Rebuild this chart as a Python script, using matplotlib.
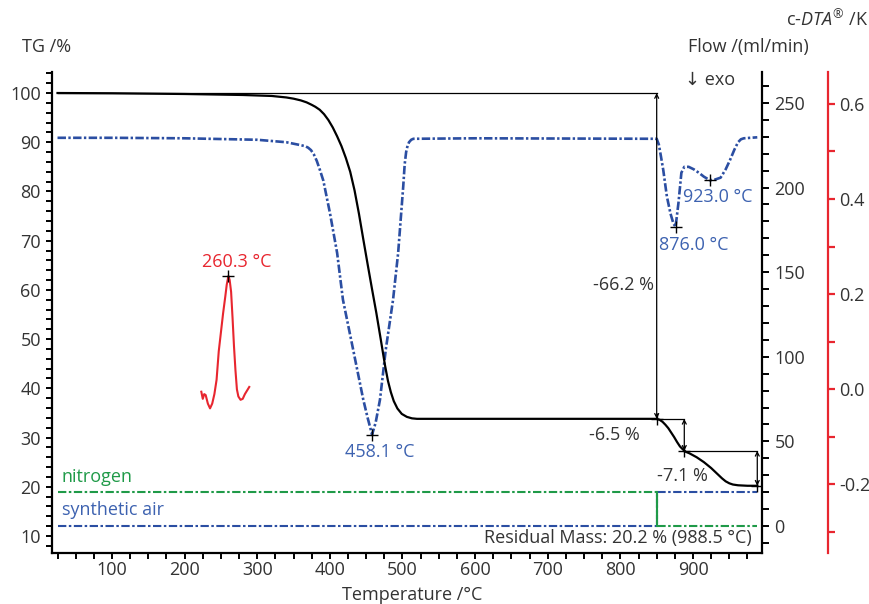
import matplotlib
matplotlib.use("Agg")
import matplotlib.pyplot as plt
from matplotlib.ticker import MultipleLocator, FuncFormatter

plt.rcParams['font.family'] = ['Open Sans', 'DejaVu Sans']
plt.rcParams['mathtext.fontset'] = 'custom'
plt.rcParams['mathtext.rm'] = 'Open Sans'
plt.rcParams['mathtext.it'] = 'Open Sans:italic'

TXT = '#333333'
BLUE = '#2b4ea2'
BLUE_T = '#3d62b0'
RED = '#e8262f'
GREEN = '#1f9a48'
FS = 13

# TG curve (%)
tg_T = [25, 100, 200, 280, 320, 340, 350, 360, 368, 375, 380, 386, 392, 398, 404, 410, 416,
        422, 428, 434, 440, 446, 452, 458, 464, 470, 476, 480, 484, 488, 493, 499, 506, 513,
        520, 600, 850, 854, 858, 862, 866, 870, 874, 878, 882, 886, 890, 895, 900, 905, 910,
        915, 920, 925, 930, 935, 940, 945, 950, 955, 962, 975, 988.5]
tg_v = [100, 99.95, 99.8, 99.6, 99.4, 99.1, 98.85, 98.5, 98.1, 97.6, 97.2, 96.6, 95.7, 94.5,
        93.0, 91.2, 89.2, 86.8, 84.0, 80.2, 75.5, 70.3, 65.2, 60.2, 55.3, 50.0, 44.6, 41.5,
        39.2, 37.4, 35.9, 34.8, 34.2, 33.9, 33.8, 33.8, 33.8, 33.6, 33.2, 32.6, 31.9, 31.0,
        30.1, 29.1, 28.2, 27.6, 27.1, 26.8, 26.4, 26.0, 25.5, 25.0, 24.4, 23.8, 23.1, 22.4,
        21.7, 21.1, 20.7, 20.45, 20.3, 20.2, 20.2]

# blue dash-dot curve (plotted in TG-axis units)
bl_T = [25, 100, 200, 300, 340, 360, 366, 370, 374, 378, 382, 386, 391, 400, 410, 418, 432,
        446, 452, 458.1, 463, 469, 477, 487, 494, 501, 503, 505, 507, 509, 512, 515, 600,
        850, 853, 856, 859, 864, 869, 873, 876, 880, 884, 888, 894, 901, 908, 915, 923, 930,
        938, 945, 951, 957, 962, 966, 970, 988.5]
bl_v = [90.9, 90.9, 90.8, 90.5, 90.0, 89.4, 89.2, 88.9, 88.4, 87.5, 86.2, 84.5, 82.2, 75.7,
        67.5, 58, 47.9, 37.7, 34, 30.6, 33, 37.7, 47.9, 58, 67.5, 81, 85.5, 88.0, 89.3, 90.0,
        90.5, 90.7, 90.8, 90.7, 89.5, 87, 84.4, 79, 75.5, 73.5, 72.8, 77.7, 83.8, 85, 85,
        84.5, 83.8, 83.0, 82.3, 82.4, 82.8, 84.5, 86.4, 88.5, 90, 90.6, 90.8, 91]

# red c-DTA curve (K)
rd_T = [223, 225, 227, 229, 232, 235, 238, 241, 244, 247, 250, 253, 256, 258, 260.3, 262,
        264, 266, 268, 270, 272, 274, 277, 280, 283, 287, 289]
rd_v = [-0.005, -0.02, -0.01, -0.012, -0.03, -0.04, -0.03, -0.01, 0.02, 0.08, 0.12, 0.16,
        0.195, 0.22, 0.238, 0.23, 0.205, 0.15, 0.09, 0.04, 0.0, -0.015, -0.022, -0.02,
        -0.01, 0.0, 0.005]

# gas flows (ml/min)
flow_T = [25, 850, 850, 988.5]
nitrogen = [20, 20, 0, 0]
air = [0, 0, 20, 20]

fig = plt.figure(figsize=(8.7, 6.04), dpi=100)
L, R, B, T = 52/870, 762/870, 1-553/604, 1-72/604
ax = fig.add_axes([L, B, R-L, T-B])
ax2 = ax.twinx()
ax3 = ax.twinx()
ax.set_zorder(3); ax.patch.set_visible(False)

ax.set_xlim(17.4, 995)
ax.set_ylim(6.54, 104.27)
ax2.set_ylim(-15.96, 268.3)
ax3.set_ylim(-0.344, 0.667)

for a in (ax, ax2, ax3):
    a.spines['top'].set_visible(False)
for a in (ax2, ax3):
    a.spines['left'].set_visible(False)
    a.spines['bottom'].set_visible(False)
ax.spines['right'].set_visible(False)
ax.spines['left'].set_linewidth(1.6)
ax.spines['bottom'].set_linewidth(1.6)
ax2.spines['right'].set_linewidth(1.6)
ax3.spines['right'].set_position(('axes', 1.093))
ax3.spines['right'].set_color(RED)
ax3.spines['right'].set_linewidth(1.6)

ax.xaxis.set_major_locator(MultipleLocator(100))
ax.xaxis.set_minor_locator(MultipleLocator(25))
ax.yaxis.set_major_locator(MultipleLocator(10))
ax.yaxis.set_minor_locator(MultipleLocator(2))
ax2.yaxis.set_major_locator(MultipleLocator(50))
ax2.yaxis.set_minor_locator(MultipleLocator(10))
ax3.yaxis.set_major_locator(MultipleLocator(0.2))
ax3.yaxis.set_minor_locator(MultipleLocator(0.1))
ax3.yaxis.set_major_formatter(FuncFormatter(lambda v, p: f"{v:.1f}" if abs(v) > 1e-9 else "0.0"))

ax.tick_params(which='both', direction='out', length=4, width=1.4, labelsize=FS, labelcolor=TXT, pad=2)
ax.tick_params(axis='y', which='both', pad=4)
ax2.tick_params(which='both', direction='out', length=5, width=1.4, labelsize=FS, labelcolor=TXT, pad=4)
ax3.tick_params(which='both', direction='out', length=5, width=1.6, color=RED, labelsize=FS, labelcolor=TXT, pad=3)

# curves
ax.plot(tg_T, tg_v, color='black', lw=1.6, zorder=5)
ax.plot(bl_T, bl_v, color=BLUE, lw=1.9, ls=(0, (3.2, 0.9, 0.9, 0.9)), zorder=4)
ax3.plot(rd_T, rd_v, color=RED, lw=1.5)
ax2.plot(flow_T, nitrogen, color=GREEN, lw=1.5, ls=(0, (4, 1.2, 1.2, 1.2)))
ax2.plot(flow_T, air, color=BLUE, lw=1.5, ls=(0, (4, 1.2, 1.2, 1.2)))
ax2.plot([850, 850], [0, 20], color=GREEN, lw=1.5)

# step evaluation
lwa = 0.9
ax.plot([25, 850], [100, 100], color='black', lw=lwa, zorder=4)
ax.plot([850, 888], [33.8, 33.8], color='black', lw=lwa, zorder=4)
ax.plot([888, 988.5], [27.3, 27.3], color='black', lw=lwa, zorder=4)
for x0, y0, y1 in [(850, 100, 33.8), (888, 33.8, 27.3), (988.5, 27.3, 20.2)]:
    ax.annotate('', xy=(x0, y1), xytext=(x0, y0),
                arrowprops=dict(arrowstyle='<->', lw=0.9, color='black', shrinkA=0, shrinkB=0,
                                mutation_scale=7), zorder=6)
ax.plot([850, 888, 988.5], [33.8, 27.3, 20.2], ls='none', marker='+', ms=8, mew=1, color='black', zorder=7)
ax.text(846, 61, '-66.2 %', ha='right', va='center', fontsize=FS, color=TXT)
ax.text(792, 30.5, '-6.5 %', ha='center', va='center', fontsize=FS, color=TXT)
ax.text(885, 22.2, '-7.1 %', ha='center', va='center', fontsize=FS, color=TXT)
ax.text(0.986, 0.031, 'Residual Mass: 20.2 % (988.5 °C)', transform=ax.transAxes,
        ha='right', va='center', fontsize=FS, color=TXT)

# peaks
ax.plot([458.1, 876.0, 923.0], [30.6, 72.8, 82.3], ls='none', marker='+', ms=8, mew=1, color='black', zorder=7)
ax3.plot([260.3], [0.238], ls='none', marker='+', ms=8, mew=1, color='black')
ax.text(469, 27.0, '458.1 °C', ha='center', va='center', fontsize=FS, color=BLUE_T)
ax.text(901.6, 69.1, '876.0 °C', ha='center', va='center', fontsize=FS, color=BLUE_T)
ax.text(934.7, 78.9, '923.0 °C', ha='center', va='center', fontsize=FS, color=BLUE_T)
ax.text(272, 65.6, '260.3 °C', ha='center', va='center', fontsize=FS, color=RED)
ax.text(31, 21.95, 'nitrogen', ha='left', va='center', fontsize=FS, color=GREEN)
ax.text(31, 15.2, 'synthetic air', ha='left', va='center', fontsize=FS, color=BLUE_T)

# axis titles
fig.text(22/870, 1-47/604, 'TG /%', ha='left', va='center', fontsize=FS, color=TXT)
fig.text(688/870, 1-47/604, 'Flow /(ml/min)', ha='left', va='center', fontsize=FS, color=TXT)
fig.text(868/870, 1-20/604, r'c-$\mathit{DTA}^{®}$ /K', ha='right', va='center', fontsize=FS, color=TXT)
fig.text(685/870, 1-80/604, '↓ exo', ha='left', va='center', fontsize=FS, color=TXT)
fig.text(412/870, 1-595/604, 'Temperature /°C', ha='center', va='center', fontsize=FS, color=TXT)

fig.savefig('out.png', dpi=100)
